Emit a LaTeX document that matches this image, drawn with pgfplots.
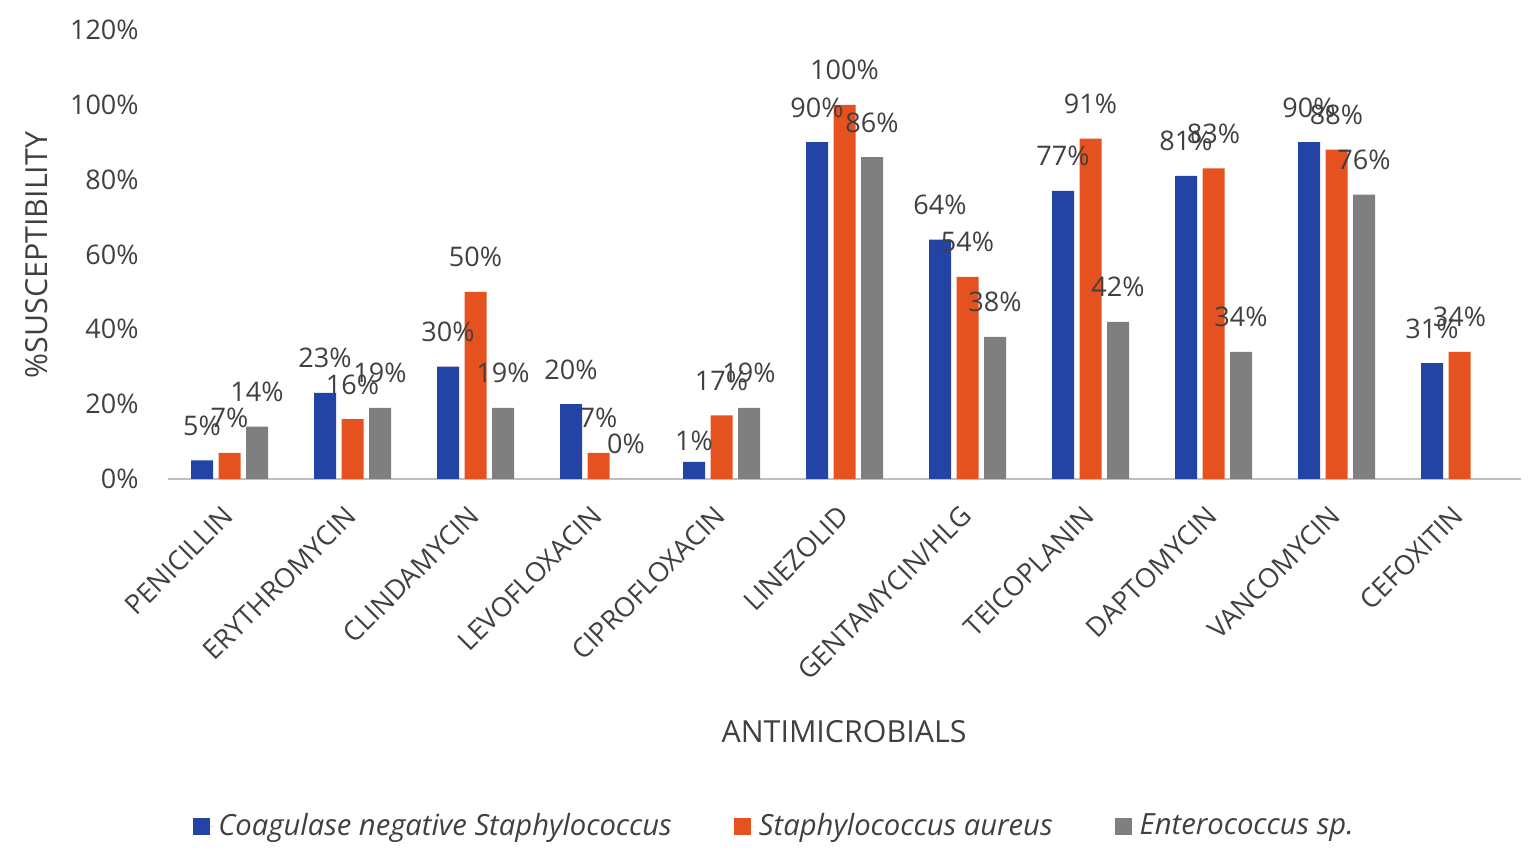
\documentclass[border=0pt]{standalone}
\usepackage{pgfplots}
\pgfplotsset{compat=1.18}
\usepackage{fontspec}
\setmainfont{Open Sans}
\definecolor{cblue}{HTML}{2444A5}
\definecolor{corange}{HTML}{E5511F}
\definecolor{cgrey}{HTML}{7F7F7F}
\definecolor{txt}{HTML}{404040}
\newcommand{\fs}{\fontsize{13.5pt}{16pt}\selectfont}
\newcommand{\fst}{\fontsize{15.2pt}{18pt}\selectfont}
\newcommand{\fsl}{\fontsize{14.6pt}{17pt}\selectfont}
\begin{document}
\fs
\begin{tikzpicture}[x=1pt,y=1pt]
\useasboundingbox (0,0) rectangle (768,430);
\begin{axis}[
 at={(84pt,190.5pt)}, anchor=south west,
 scale only axis, width=676.5pt, height=224.5pt,
 ybar=2.75pt, bar width=11pt,
 xmin=-0.5, xmax=10.5, ymin=0, ymax=120,
 xtick={0,...,10},
 xticklabels={PENICILLIN,ERYTHROMYCIN,CLINDAMYCIN,LEVOFLOXACIN,CIPROFLOXACIN,LINEZOLID,GENTAMYCIN/HLG,TEICOPLANIN,DAPTOMYCIN,VANCOMYCIN,CEFOXITIN},
 ytick={0,20,...,120},
 yticklabels={0\%,20\%,40\%,60\%,80\%,100\%,120\%},
 axis x line*=bottom, axis y line*=left,
 y axis line style={draw=none},
 x axis line style={draw=black!25, line width=1pt},
 major tick length=0pt,
 tick label style={font=\fs, text=txt},
 yticklabel style={inner sep=0pt, xshift=-14.5pt},
 xticklabel style={rotate=45, anchor=east, inner sep=0pt, xshift=-11.5pt, yshift=-11pt},
 nodes near coords, point meta=explicit symbolic,
 every node near coord/.append style={anchor=base, yshift=12.5pt, inner sep=0pt, text=txt, font=\fs},
 legend columns=3,
 legend style={at={(0.449,-0.773)}, anchor=center, draw=none, fill=none, font=\fsl\itshape, text=txt,
   /tikz/every even column/.append style={column sep=29pt}},
 legend image code/.code={\fill[#1] (0pt,-4.25pt) rectangle (8.5pt,4.25pt); \path (0pt,0pt) -- (10.5pt,0pt);},
 clip=false,
]
\addplot[fill=cblue, draw=none] coordinates {
 (0,5)[5\%] (1,23)[23\%] (2,30)[30\%] (3,20)[20\%] (4,4.6)[\raisebox{-6.7pt}{1\%}]
 (5,90)[90\%] (6,64)[64\%] (7,77)[77\%] (8,81)[81\%] (9,90)[90\%] (10,31)[31\%]};
\addplot[fill=corange, draw=none] coordinates {
 (0,7)[7\%] (1,16)[16\%] (2,50)[50\%] (3,7)[7\%] (4,17)[17\%]
 (5,100)[100\%] (6,54)[54\%] (7,91)[91\%] (8,83)[83\%] (9,88)[88\%] (10,34)[34\%]};
\addplot[fill=cgrey, draw=none] coordinates {
 (0,14)[14\%] (1,19)[19\%] (2,19)[19\%] (3,0)[0\%] (4,19)[19\%]
 (5,86)[86\%] (6,38)[38\%] (7,42)[42\%] (8,34)[34\%] (9,76)[76\%]};
\legend{Coagulase negative Staphylococcus,Staphylococcus aureus,Enterococcus sp.}
\end{axis}
\node[rotate=90, text=txt, inner sep=0pt, font=\fst] at (18.5,302.5) {\%SUSCEPTIBILITY};
\node[text=txt, inner sep=0pt, font=\fst] at (422,64) {ANTIMICROBIALS};
\end{tikzpicture}
\end{document}
